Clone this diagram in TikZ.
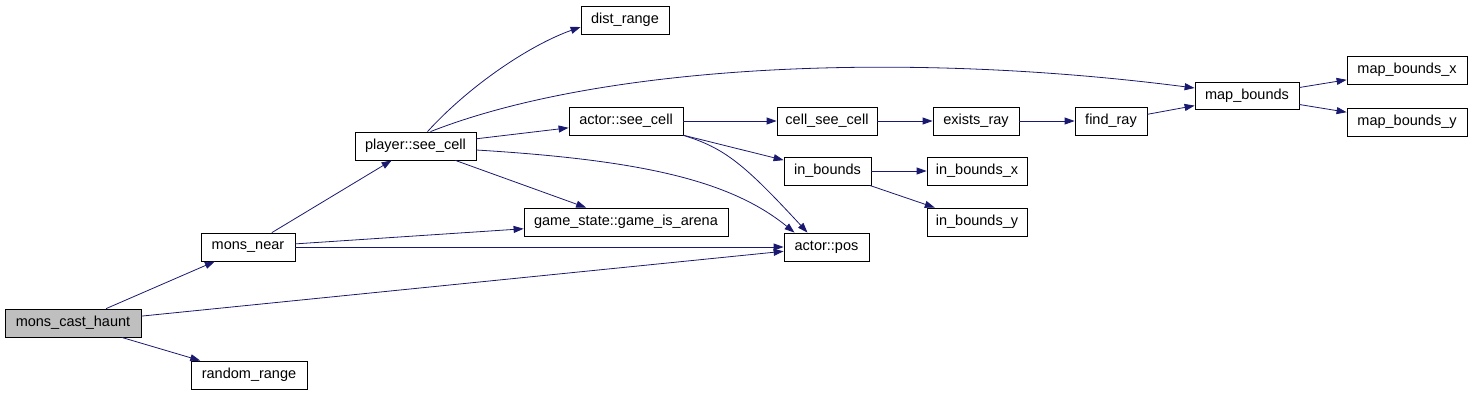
\documentclass[tikz,border=0pt]{standalone}
\usepackage{fontspec}
\setmainfont{Liberation Sans}
\usetikzlibrary{arrows.meta}
\definecolor{edgeblue}{HTML}{191970}
\definecolor{rootgray}{HTML}{BFBFBF}

\begin{document}
\begin{tikzpicture}[x=1pt, y=1pt,
		fn/.style={draw, rectangle, line width=0.8pt, minimum height=28pt, inner sep=0pt, font=\fontsize{14.5}{17}\selectfont},
		call/.style={draw=edgeblue, line width=0.8pt, -{Triangle[length=10pt,width=7pt]}}]
				\useasboundingbox (0,0) rectangle (1472,-392);
				\node[fn, fill=rootgray, minimum width=136pt] (haunt)at(73, -323) {mons\_cast\_haunt};
				\node[fn, minimum width=116pt] (randr)at(249, -375) {random\_range};
				\node[fn, minimum width=94pt] (near)at(248, -247) {mons\_near};
				\node[fn, minimum width=121pt] (psee)at(415.5, -146) {player::see\_cell};
				\node[fn, minimum width=88pt] (distr)at(625, -20) {dist\_range};
				\node[fn, minimum width=114pt] (asee)at(626, -121) {actor::see\_cell};
				\node[fn, minimum width=204pt] (arena)at(626, -222) {game\_state::game\_is\_arena};
				\node[fn, minimum width=100pt] (csee)at(827, -121) {cell\_see\_cell};
				\node[fn, minimum width=87pt] (inb)at(827.5, -171) {in\_bounds};
				\node[fn, minimum width=85pt] (apos)at(826.5, -247) {actor::pos};
				\node[fn, minimum width=86pt] (exray)at(976, -121) {exists\_ray};
				\node[fn, minimum width=100pt] (inbx)at(977, -171) {in\_bounds\_x};
				\node[fn, minimum width=100pt] (inby)at(977, -222) {in\_bounds\_y};
				\node[fn, minimum width=72pt] (fray)at(1111, -121) {find\_ray};
				\node[fn, minimum width=104pt, minimum height=27pt] (mapb)at(1247, -96) {map\_bounds};
				\node[fn, minimum width=120pt] (mapbx)at(1407, -70) {map\_bounds\_x};
				\node[fn, minimum width=120pt] (mapby)at(1407, -122) {map\_bounds\_y};
				% calls out of mons_cast_haunt
				\draw[call] (haunt) -- (near);
				\draw[call] (haunt) -- (apos);
				\draw[call] (haunt) -- (randr);
				\draw[call] (near) -- (psee);
				\draw[call] (near) -- (arena);
				\draw[call] (near) -- (apos);
				% player::see_cell
				\draw[call] ([xshift=12pt]psee.north) .. controls (470,-85) and (530,-45) .. ([yshift=-7pt]distr.west);
				\draw[call] ([xshift=15pt]psee.north) .. controls (600,-65) and (900,-50) .. ([yshift=8pt]mapb.west);
				\draw[call] (psee) -- (asee);
				\draw[call] (psee) -- (arena);
				\draw[call] ([yshift=-4pt]psee.east) .. controls (640,-160) and (730,-180) .. ([xshift=-32pt]apos.north);
				% actor::see_cell
				\draw[call] (asee) -- (csee);
				\draw[call] (asee) -- (inb);
				\draw[call] (asee.south east) .. controls (725,-148) and (745,-165) .. ([xshift=-19pt]apos.north);
				\draw[call] (csee) -- (exray);
				\draw[call] (exray) -- (fray);
				\draw[call] (fray) -- (mapb);
				\draw[call] (inb) -- (inbx);
				\draw[call] (inb) -- (inby);
				\draw[call] (mapb) -- (mapbx);
				\draw[call] (mapb) -- (mapby);
			\end{tikzpicture}
\end{document}
